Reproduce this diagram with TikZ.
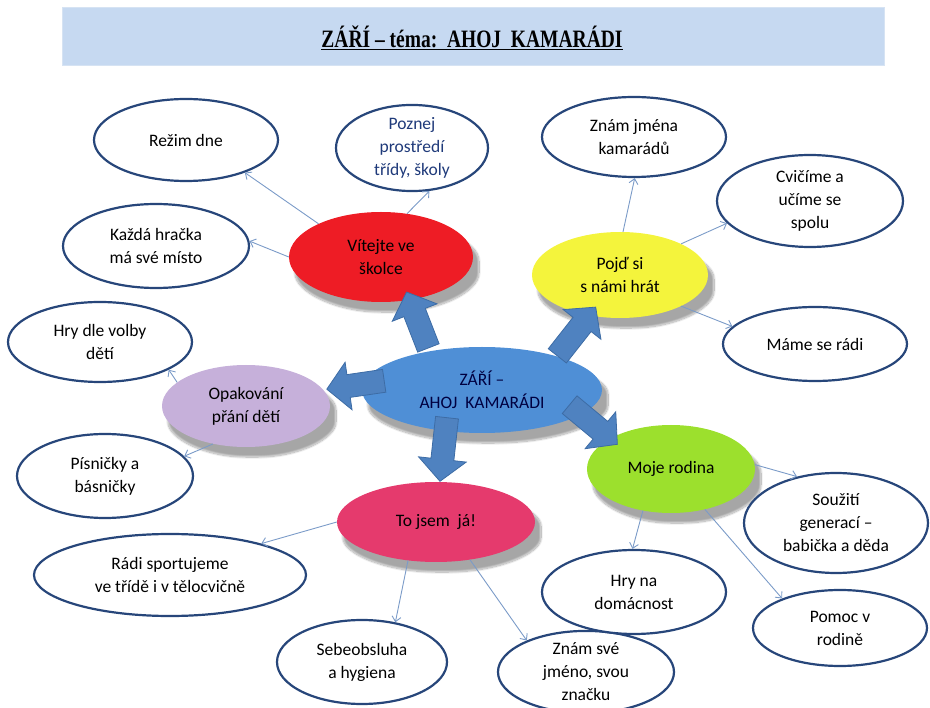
\documentclass[tikz,border=0pt]{standalone}
\usepackage{fontspec}
\setmainfont{Carlito}
\newfontfamily\titlefont{Liberation Serif}
\usetikzlibrary{shapes.geometric,arrows.meta,shadows.blur}
\definecolor{navy}{HTML}{27467A}
\definecolor{titlefill}{HTML}{C6D9F1}
\definecolor{titleedge}{HTML}{D6E3F3}
\definecolor{cred}{HTML}{EE1C25}
\definecolor{cyellow}{HTML}{F4F43C}
\definecolor{cblue}{HTML}{4F8FD6}
\definecolor{clav}{HTML}{C6B0DA}
\definecolor{cpink}{HTML}{E53A6D}
\definecolor{cgreen}{HTML}{9CE02D}
\definecolor{arrblue}{HTML}{4F82C0}
\definecolor{arredge}{HTML}{3D6CA5}
\definecolor{conn}{HTML}{7B9BC8}
\definecolor{ptext}{HTML}{1F3A7A}
\newcommand\barrow[4]{%
  \begin{scope}[shift={(#1,#2)},rotate=#3]
    \pgfmathsetmacro\hh{#4/2}\pgfmathsetmacro\hb{#4/2-22}
    \draw[blockarr] (-\hh,-11.5) -- (\hb,-11.5) -- (\hb,-24) -- (\hh,0)
      -- (\hb,24) -- (\hb,11.5) -- (-\hh,11.5) -- cycle;
  \end{scope}}
\begin{document}
\begin{tikzpicture}[x=1pt,y=-1pt,
  txt/.style={align=center, font=\fontsize{17.5}{23}\selectfont, text=black},
  leaf/.style n args={2}{ellipse, draw=navy, line width=2.2pt, fill=white, inner sep=0pt,
     minimum width=#1, minimum height=#2, txt},
  hub/.style n args={3}{ellipse, fill=#3, inner sep=0pt, minimum width=#1, minimum height=#2, txt,
     blur shadow={shadow xshift=6pt, shadow yshift=-10pt, shadow blur steps=16, shadow blur extra rounding=6pt, shadow opacity=35}},
  link/.style={draw=conn, line width=0.9pt, -{Straight Barb[length=5pt,width=9pt]}},
  blockarr/.style={fill=arrblue, draw=arredge, line width=0.8pt, line join=miter}
]
\useasboundingbox (0,0) rectangle (930,708);
% title band
\node[draw=titleedge, line width=1pt, fill=titlefill, minimum width=822, minimum height=58, inner sep=0pt] (title) at (473,37) {};
\node[font=\titlefont\bfseries\fontsize{25}{28}\selectfont, text=black] (titletext) at (472,38)
  {\scalebox{0.78}[1]{\underline{ZÁŘÍ – téma:\ \ AHOJ\ \ KAMARÁDI}}};

% coloured hubs
\node[hub={184}{90}{cred}] (vitejte) at (381,257) {Vítejte ve\\školce};
\node[hub={176}{86}{cyellow}] (pojd) at (620,275) {Pojď si\\s námi hrát};
\node[hub={240}{86}{cblue}, text=black!75!blue] (center) at (482,390) {ZÁŘÍ –\\AHOJ\ \ KAMARÁDI};
\node[hub={168}{82}{clav}] (opak) at (246,406) {Opakování\\přání dětí};
\node[hub={198}{80}{cpink}] (tojsem) at (436,522) {To jsem\ \ já!};
\node[hub={168}{88}{cgreen}] (moje) at (671,469) {Moje rodina};

% leaves
\node[leaf={184}{82}] (rezim) at (186,140) {Režim dne};
\node[leaf={186}{84}] (kazda) at (156,246) {Každá hračka\\má své místo};
\node[leaf={152}{80}, text=ptext] (poznej) at (412,148) {Poznej\\prostředí\\třídy, školy};
\node[leaf={184}{80}] (znamjm) at (634,137) {Znám jména\\kamarádů};
\node[leaf={186}{92}] (cvicime) at (810,201) {Cvičíme a\\učíme se\\spolu};
\node[leaf={184}{74}] (mame) at (815,344) {Máme se rádi};
\node[leaf={184}{80}] (hrydle) at (100,342) {Hry dle volby\\dětí};
\node[leaf={176}{84}] (pisnicky) at (105,476) {Písničky a\\básničky};
\node[leaf={272}{82}] (radi) at (170,575) {Rádi sportujeme\\ve třídě i v tělocvičně};
\node[leaf={170}{84}] (sebe) at (362,662) {Sebeobsluha\\a hygiena};
\node[leaf={176}{80}] (znamsve) at (586,672) {Znám své\\jméno, svou\\značku};
\node[leaf={184}{84}] (hryna) at (634,592) {Hry na\\domácnost};
\node[leaf={184}{100}] (souziti) at (836,523) {Soužití\\generací –\\babička a děda};
\node[leaf={174}{76}] (pomoc) at (840,628) {Pomoc v\\rodině};

% thin connectors
\draw[link] (vitejte.152) -- (rezim.-29);
\draw[link] (vitejte.180) -- (kazda.3);
\draw[link] (vitejte.59) -- (poznej.-68);
\draw[link] (pojd.86) -- (znamjm.-89);
\draw[link] (pojd.27) -- (cvicime.195);
\draw[link] (pojd.-27) -- (mame.168);
\draw[link] (opak.161) -- (hrydle.-22);
\draw[link] (opak.229) -- (pisnicky.14);
\draw[link] (tojsem.180) -- (radi.19);
\draw[link] (tojsem.234) -- (sebe.50);
\draw[link] (tojsem.-48) -- (znamsve.152);
\draw[link] (moje.3) -- (souziti.130);
\draw[link] (moje.236) -- (hryna.92);
\draw[link] (moje.-50) -- (pomoc.153);

% block arrows from the centre
\barrow{417.5}{320}{111.3}{60}
\barrow{576.5}{331.5}{51.8}{62}
\barrow{355.5}{385}{188.3}{58}
\barrow{443.5}{449.5}{263.7}{64}
\barrow{593.5}{424.5}{-39.7}{62}
\end{tikzpicture}
\end{document}
